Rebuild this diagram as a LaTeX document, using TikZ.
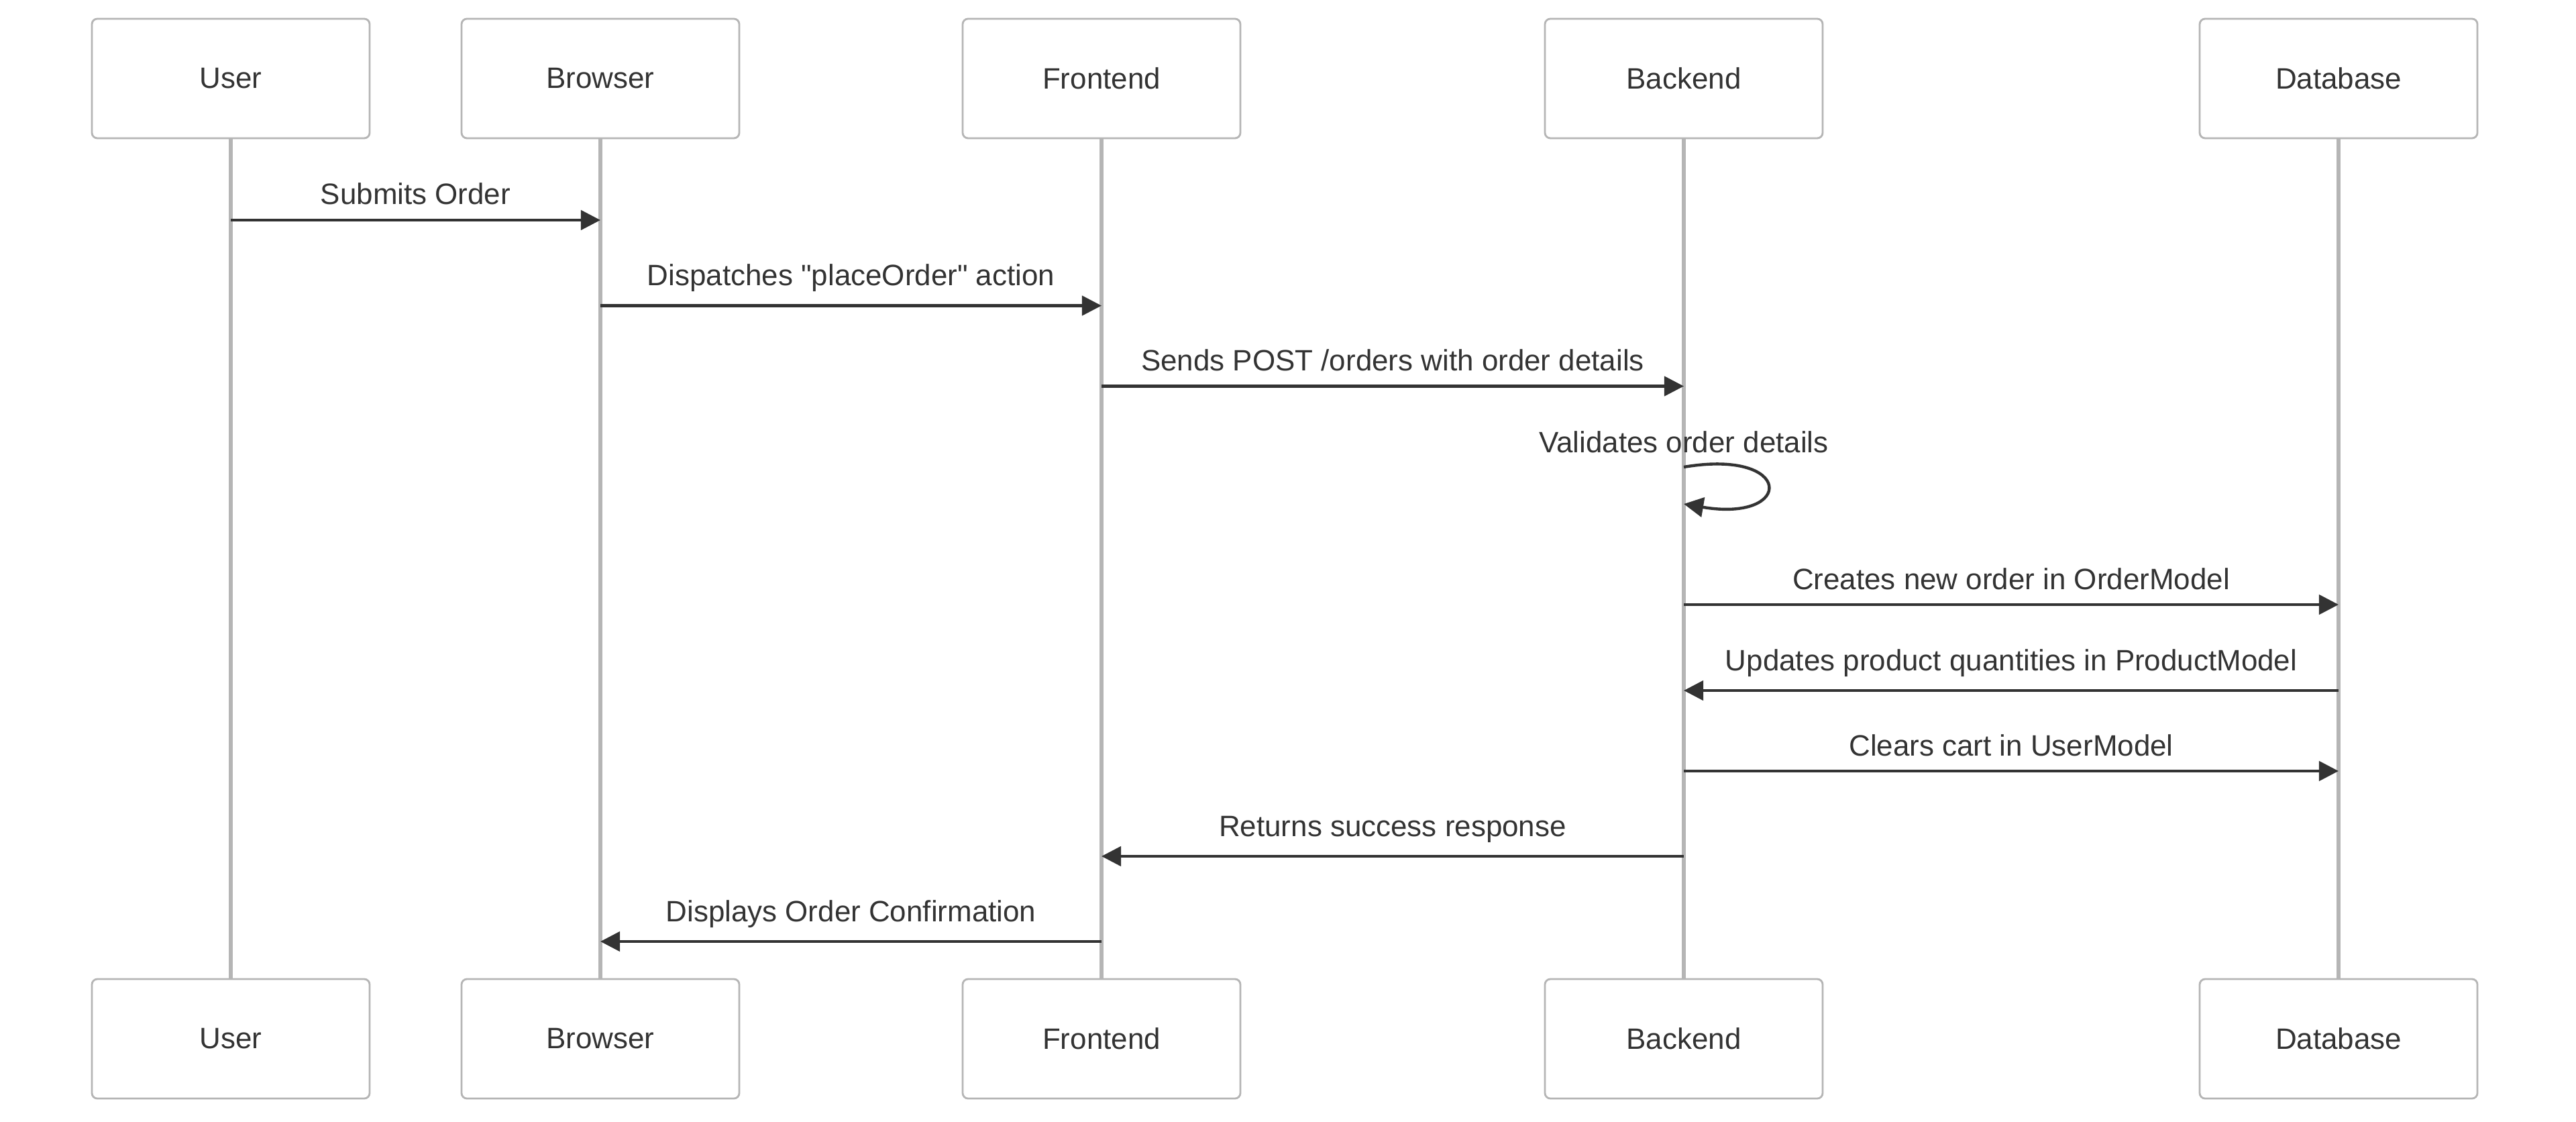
\documentclass[tikz,border=0pt]{standalone}
\usepackage{fontspec}
\setmainfont{Liberation Sans}
\usetikzlibrary{arrows.meta}
\definecolor{actgray}{HTML}{B5B5B5}
\definecolor{msgdark}{HTML}{333333}
\tikzset{
    AC/.style ={rectangle, rounded corners=2.3pt, minimum width=4.14cm, minimum height=1.78cm, draw=actgray, line width=0.8pt, fill=white, text=msgdark, font=\fontsize{12.5}{15}\selectfont},
    LL/.style ={draw=actgray, line width=1.6pt},
    MS/.style ={draw=msgdark, line width=1.25pt, -{Triangle[length=8.3pt,width=8.3pt]}},
    ML/.style ={midway, anchor=base, yshift=0.23cm, text=msgdark, font=\fontsize{12.5}{15}\selectfont},
    MLD/.style ={ML, yshift=0.07cm}}

\begin{document}
\begin{tikzpicture}
        \useasboundingbox (0,0) rectangle (38.4,-16.72);
        % actors
        \node[AC] (user) at(3.44,-1.17){User};
        \node[AC] (browser) at(8.95,-1.17){Browser};
        \node[AC] (front) at(16.42,-1.17){Frontend};
        \node[AC] (back) at(25.10,-1.17){Backend};
        \node[AC] (db) at(34.86,-1.17){Database};
        \node[AC] (userB) at(3.44,-15.48){User};
        \node[AC] (browserB) at(8.95,-15.48){Browser};
        \node[AC] (frontB) at(16.42,-15.48){Frontend};
        \node[AC] (backB) at(25.10,-15.48){Backend};
        \node[AC] (dbB) at(34.86,-15.48){Database};
        % lifelines
        \draw[LL] (user) --(userB);
        \draw[LL] (browser) --(browserB);
        \draw[LL] (front) --(frontB);
        \draw[LL] (back) --(backB);
        \draw[LL] (db) --(dbB);
        % message ends
        \coordinate (u1) at(3.44,-3.28);
        \coordinate (b1) at(8.95,-3.28);
        \coordinate (b2) at(8.95,-4.555);
        \coordinate (f2) at(16.42,-4.555);
        \coordinate (f3) at(16.42,-5.755);
        \coordinate (k3) at(25.10,-5.755);
        \coordinate (k4) at(25.10,-6.96);
        \coordinate (k4a) at(26.75,-6.68);
        \coordinate (k4b) at(26.75,-7.79);
        \coordinate (k4e) at(25.10,-7.51);
        \coordinate (k5) at(25.10,-9.01);
        \coordinate (d5) at(34.86,-9.01);
        \coordinate (d6) at(34.86,-10.29);
        \coordinate (k6) at(25.10,-10.29);
        \coordinate (k7) at(25.10,-11.49);
        \coordinate (d7) at(34.86,-11.49);
        \coordinate (k8) at(25.10,-12.76);
        \coordinate (f8) at(16.42,-12.76);
        \coordinate (f9) at(16.42,-14.03);
        \coordinate (b9) at(8.95,-14.03);
        % messages
        \draw[MS] (u1) --(b1) node[ML]{Submits Order};
        \draw[MS] (b2) --(f2) node[MLD]{Dispatches \textquotedbl placeOrder\textquotedbl{} action};
        \draw[MS] (f3) --(k3) node[ML]{Sends POST /orders with order details};
        \node[text=msgdark, font=\fontsize{12.5}{15}\selectfont] (val) at(25.10,-6.59){Validates order details};
        \draw[MS] (k4) .. controls (k4a) and (k4b) .. (k4e);
        \draw[MS] (k5) --(d5) node[ML]{Creates new order in OrderModel};
        \draw[MS] (d6) --(k6) node[MLD]{Updates product quantities in ProductModel};
        \draw[MS] (k7) --(d7) node[ML]{Clears cart in UserModel};
        \draw[MS] (k8) --(f8) node[MLD]{Returns success response};
        \draw[MS] (f9) --(b9) node[MLD]{Displays Order Confirmation};
\end{tikzpicture}
\end{document}
